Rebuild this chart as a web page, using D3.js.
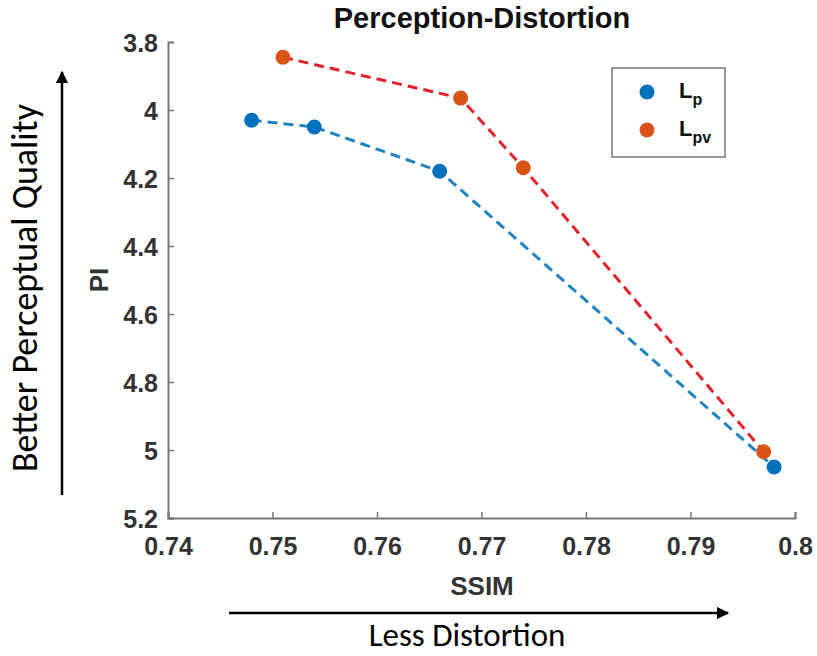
<!DOCTYPE html>
<html>
<head>
<meta charset="utf-8">
<script src="https://cdn.jsdelivr.net/npm/d3@7"></script>
<style>
  body { margin: 0; background: #fff; }
  text { font-family: "Liberation Sans", Arial, sans-serif; }
</style>
</head>
<body>
<div id="chart"></div>
<script>
// values
const lpSSIM = [0.748, 0.754, 0.766, 0.798];
const lpPI = [4.03, 4.05, 4.18, 5.05];
const lpvSSIM = [0.751, 0.768, 0.774, 0.797];
const lpvPI = [3.845, 3.965, 4.17, 5.005];
const xTicks = [0.74, 0.75, 0.76, 0.77, 0.78, 0.79, 0.8];
const yTicks = [3.8, 4, 4.2, 4.4, 4.6, 4.8, 5, 5.2];

const width = 817;
const height = 656;

const svg = d3.select('#chart')
    .append('svg')
    .attr('width', width)
    .attr('height', height);

const x = d3.scaleLinear().domain([0.74, 0.8]).range([168, 795]);
const y = d3.scaleLinear().domain([3.8, 5.2]).range([42, 518]);

const axisColor = '#777';
const labelColor = '#333';

// axes
const xAxis = svg.append('g')
    .attr('transform', 'translate(0,' + y(5.2) + ')')
    .call(d3.axisBottom(x).tickValues(xTicks).tickSize(-6).tickPadding(19)
        .tickFormat(d => +d.toFixed(2)));
const yAxis = svg.append('g')
    .attr('transform', 'translate(' + x(0.74) + ',0)')
    .call(d3.axisLeft(y).tickValues(yTicks).tickSize(-6).tickPadding(10)
        .tickFormat(d => +d.toFixed(1)));

[xAxis, yAxis].forEach(ax => {
  ax.select('.domain').attr('stroke', axisColor).attr('stroke-width', 2);
  ax.selectAll('.tick line').attr('stroke', axisColor).attr('stroke-width', 1.5);
  ax.selectAll('.tick text')
      .attr('fill', labelColor)
      .style('font-size', '25px')
      .style('font-weight', 'bold')
      .style('font-family', '"Liberation Sans", Arial, sans-serif');
});
yAxis.selectAll('.tick text').attr('dy', '0.36em');

// title and axis labels
svg.append('text')
    .attr('x', 482)
    .attr('y', 28)
    .attr('text-anchor', 'middle')
    .style('font-size', '29px')
    .style('font-weight', 'bold')
    .attr('fill', '#111')
    .text('Perception-Distortion');

svg.append('text')
    .attr('x', 482)
    .attr('y', 595)
    .attr('text-anchor', 'middle')
    .style('font-size', '26px')
    .style('font-weight', 'bold')
    .attr('fill', labelColor)
    .text('SSIM');

svg.append('text')
    .attr('transform', 'translate(108,280) rotate(-90)')
    .attr('text-anchor', 'middle')
    .style('font-size', '26px')
    .style('font-weight', 'bold')
    .attr('fill', labelColor)
    .text('PI');

// arrows
const defs = svg.append('defs');
defs.append('marker')
    .attr('id', 'arrow')
    .attr('viewBox', '0 0 10 10')
    .attr('refX', 9)
    .attr('refY', 5)
    .attr('markerWidth', 5)
    .attr('markerHeight', 5)
    .attr('orient', 'auto')
    .append('path')
    .attr('d', 'M0,0 L10,5 L0,10 z')
    .attr('fill', '#000');

svg.append('line')
    .attr('x1', 62).attr('y1', 495)
    .attr('x2', 62).attr('y2', 72)
    .attr('stroke', '#000')
    .attr('stroke-width', 2.5)
    .attr('marker-end', 'url(#arrow)');

svg.append('line')
    .attr('x1', 229).attr('y1', 613)
    .attr('x2', 728).attr('y2', 613)
    .attr('stroke', '#000')
    .attr('stroke-width', 2.5)
    .attr('marker-end', 'url(#arrow)');

svg.append('text')
    .attr('transform', 'translate(37,288) rotate(-90)')
    .attr('text-anchor', 'middle')
    .style('font-size', '36px')
    .style('font-family', 'Carlito, Calibri, Lato, sans-serif')
    .attr('fill', '#000')
    .text('Better Perceptual Quality');

svg.append('text')
    .attr('x', 467)
    .attr('y', 646)
    .attr('text-anchor', 'middle')
    .style('font-size', '33px')
    .style('font-family', 'Carlito, Calibri, Lato, sans-serif')
    .attr('fill', '#000')
    .text('Less Distortion');

// series
const series = [
  { name: 'p', xs: lpSSIM, ys: lpPI, line: '#1f84c0', dot: '#0072BD' },
  { name: 'pv', xs: lpvSSIM, ys: lpvPI, line: '#e0232e', dot: '#D95319' }
];

const line = d3.line().x(d => x(d[0])).y(d => y(d[1]));

series.forEach(s => {
  const pts = s.xs.map((v, i) => [v, s.ys[i]]);
  svg.append('path')
      .datum(pts)
      .attr('d', line)
      .attr('fill', 'none')
      .attr('stroke', s.line)
      .attr('stroke-width', 3)
      .attr('stroke-dasharray', '10,6');
  svg.append('g')
      .selectAll('circle')
      .data(pts)
      .join('circle')
      .attr('cx', d => x(d[0]))
      .attr('cy', d => y(d[1]))
      .attr('r', 7.5)
      .attr('fill', s.dot);
});

// legend
const legend = svg.append('g');
legend.append('rect')
    .attr('x', 612).attr('y', 68)
    .attr('width', 113).attr('height', 89)
    .attr('fill', '#fff')
    .attr('stroke', '#777')
    .attr('stroke-width', 1.5);

series.forEach((s, i) => {
  const cy = 92 + i * 38;
  legend.append('circle')
      .attr('cx', 647).attr('cy', cy)
      .attr('r', 7.5)
      .attr('fill', s.dot);
  const t = legend.append('text')
      .attr('x', 679).attr('y', cy + 6)
      .style('font-size', '22px')
      .style('font-weight', 'bold')
      .attr('fill', '#111');
  t.append('tspan').text('L');
  t.append('tspan')
      .attr('dy', 7)
      .style('font-size', '16px')
      .text(s.name);
});
</script>
</body>
</html>
